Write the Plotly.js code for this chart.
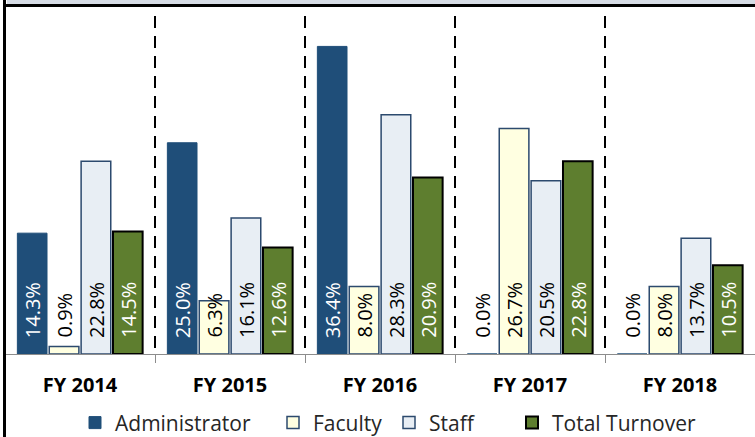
<!DOCTYPE html>
<html>
<head>
<meta charset="utf-8">
<script src="https://cdn.plot.ly/plotly-3.0.1.min.js"></script>
<style>
  html, body { margin: 0; padding: 0; background: #ffffff; }
  #wrap { position: relative; width: 755px; height: 437px; overflow: hidden; }
  #chart { position: absolute; left: 0; top: 0; width: 755px; height: 437px; }
  .deco { position: absolute; pointer-events: none; }
</style>
</head>
<body>
<div id="wrap">
  <div id="chart"></div>
  <div class="deco" style="left:7px; top:0; width:748px; height:4px; background:#d6dce5;"></div>
  <div class="deco" style="left:3px; top:4px; width:752px; height:3px; background:#000;"></div>
  <div class="deco" style="left:3px; top:0; width:3px; height:437px; background:#000;"></div>
</div>
<script>
const categories = ["FY 2014", "FY 2015", "FY 2016", "FY 2017", "FY 2018"];
const seriesNames = ["Administrator", "Faculty", "Staff", "Total Turnover"];
const administrator = [14.3, 25.0, 36.4, 0.0, 0.0];
const faculty = [0.9, 6.3, 8.0, 26.7, 8.0];
const staff = [22.8, 16.1, 28.3, 20.5, 13.7];
const totalTurnover = [14.5, 12.6, 20.9, 22.8, 10.5];

const seriesValues = [administrator, faculty, staff, totalTurnover];
const fills = ["#1f4e79", "#ffffe1", "#e8eef4", "#5e7e2f"];
const outlines = ["#1f4e79", "#2c4a6e", "#2c4a6e", "#000000"];
const outlineWidths = [1, 1.5, 1.5, 2];
const insideLabelColors = ["#ffffff", "#000000", "#000000", "#ffffff"];
const legendWidths = [153, 71, 78, 140];

const bargap = 0.15;
const bargroupgap = 0.07;
const FONT = "'Open Sans', 'Liberation Sans', Arial, sans-serif";

const traces = seriesValues.map((vals, i) => ({
  type: "bar",
  name: seriesNames[i],
  x: categories,
  y: vals,
  legendwidth: legendWidths[i],
  marker: { color: fills[i], line: { color: outlines[i], width: outlineWidths[i] } },
  hoverinfo: "skip"
}));

// value labels: rotated, anchored near the base of each bar
const nSeries = seriesValues.length;
const slot = (1 - bargap) / nSeries;
const annotations = [];
seriesValues.forEach((vals, i) => {
  const offset = -(1 - bargap) / 2 + slot * (i + 0.5);
  vals.forEach((v, j) => {
    annotations.push({
      x: j + offset, xref: "x",
      y: 0, yref: "y",
      yanchor: "bottom", xanchor: "center",
      yshift: 14,
      text: v.toFixed(1) + "%",
      textangle: -90,
      showarrow: false,
      font: { family: FONT, size: 20, color: v >= 9 ? insideLabelColors[i] : "#000000" }
    });
  });
});

const layout = {
  width: 755, height: 437,
  margin: { l: 5, r: 0, t: 16, b: 83, pad: 0, autoexpand: false },
  paper_bgcolor: "rgba(0,0,0,0)",
  plot_bgcolor: "#ffffff",
  barmode: "group",
  bargap: bargap,
  bargroupgap: bargroupgap,
  showlegend: true,
  legend: {
    orientation: "h",
    x: 0.508, xanchor: "center",
    y: -0.204, yanchor: "middle",
    font: { family: FONT, size: 21, color: "#262626" },
    traceorder: "normal",
    itemwidth: 30
  },
  xaxis: {
    type: "category",
    tickson: "boundaries",
    showgrid: true,
    gridcolor: "#000000",
    gridwidth: 2,
    griddash: "12px,8px",
    ticks: "outside",
    ticklen: 8,
    tickcolor: "#8c8c8c",
    tickwidth: 1,
    ticklabelstandoff: 13,
    showline: true,
    linecolor: "#8c8c8c",
    linewidth: 1,
    tickfont: { family: FONT, size: 20, color: "#000000", weight: "bold" },
    zeroline: false,
    automargin: false,
    fixedrange: true
  },
  yaxis: {
    range: [0, 40],
    visible: false,
    showgrid: false,
    zeroline: false,
    fixedrange: true
  },
  annotations: annotations
};

Plotly.newPlot("chart", traces, layout, { displayModeBar: false, staticPlot: true });
</script>
</body>
</html>
